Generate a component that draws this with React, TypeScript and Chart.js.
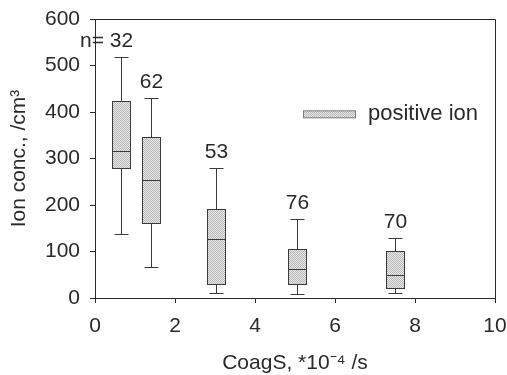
import React, { useEffect, useRef } from "react";
import { Chart, registerables } from "chart.js";

Chart.register(...registerables);

// ---- data ----
const xPositions = [0.65, 1.4, 3.02, 5.05, 7.49];
const whiskerLow = [138, 67, 11, 9, 11];
const quartile1 = [280, 161, 30, 30, 22];
const medians = [316, 254, 127, 62, 49];
const quartile3 = [424, 346, 191, 105, 101];
const whiskerHigh = [518, 430, 280, 170, 129];
const counts = [32, 62, 53, 76, 70];
const seriesName = "positive ion";
const xTicks = [0, 2, 4, 6, 8, 10];
const yTicks = [0, 100, 200, 300, 400, 500, 600];

const FONT = "'Liberation Sans', Arial, sans-serif";
const INK = "#2a2a2a";

function makePattern(ctx: CanvasRenderingContext2D) {
  const c = document.createElement("canvas");
  c.width = 2;
  c.height = 2;
  const p = c.getContext("2d")!;
  p.fillStyle = "#e8e8e8";
  p.fillRect(0, 0, 2, 2);
  p.fillStyle = "#b8b8b8";
  p.fillRect(0, 0, 1, 1);
  p.fillRect(1, 1, 1, 1);
  return ctx.createPattern(c, "repeat")!;
}

const boxPlugin = {
  id: "boxPlugin",
  afterDatasetsDraw(chart: any) {
    const { ctx, chartArea, scales } = chart;
    const xs = scales.x;
    const ys = scales.y;
    const pattern = makePattern(ctx);
    ctx.save();
    // frame top and right
    ctx.strokeStyle = INK;
    ctx.lineWidth = 1;
    ctx.beginPath();
    ctx.moveTo(chartArea.left, Math.round(chartArea.top) + 0.5);
    ctx.lineTo(Math.round(chartArea.right) + 0.5, Math.round(chartArea.top) + 0.5);
    ctx.lineTo(Math.round(chartArea.right) + 0.5, chartArea.bottom);
    ctx.stroke();

    const halfW = 9;
    const capHalf = 7;
    xPositions.forEach((xv, i) => {
      const cx = Math.round(xs.getPixelForValue(xv)) + 0.5;
      const yLo = ys.getPixelForValue(whiskerLow[i]);
      const yQ1 = ys.getPixelForValue(quartile1[i]);
      const yMed = Math.round(ys.getPixelForValue(medians[i])) + 0.5;
      const yQ3 = ys.getPixelForValue(quartile3[i]);
      const yHi = ys.getPixelForValue(whiskerHigh[i]);
      ctx.strokeStyle = "#3a3a3a";
      ctx.lineWidth = 1;
      // whiskers
      ctx.beginPath();
      ctx.moveTo(cx, yQ3);
      ctx.lineTo(cx, Math.round(yHi) + 0.5);
      ctx.moveTo(cx - capHalf, Math.round(yHi) + 0.5);
      ctx.lineTo(cx + capHalf, Math.round(yHi) + 0.5);
      ctx.moveTo(cx, yQ1);
      ctx.lineTo(cx, Math.round(yLo) + 0.5);
      ctx.moveTo(cx - capHalf, Math.round(yLo) + 0.5);
      ctx.lineTo(cx + capHalf, Math.round(yLo) + 0.5);
      ctx.stroke();
      // box
      const top = Math.round(yQ3) + 0.5;
      const bot = Math.round(yQ1) + 0.5;
      ctx.fillStyle = pattern;
      ctx.fillRect(cx - halfW, top, halfW * 2, bot - top);
      ctx.strokeRect(cx - halfW, top, halfW * 2, bot - top);
      // median
      ctx.beginPath();
      ctx.moveTo(cx - halfW, yMed);
      ctx.lineTo(cx + halfW, yMed);
      ctx.stroke();
      // count labels
      ctx.fillStyle = INK;
      ctx.font = `21px ${FONT}`;
      ctx.textBaseline = "middle";
      ctx.textAlign = "center";
      const ly = yHi - 16;
      const txt = String(counts[i]);
      ctx.fillText(txt, cx, ly);
      if (i === 0) {
        const w = ctx.measureText(txt).width;
        ctx.textAlign = "right";
        ctx.fillText("n= ", cx - w / 2, ly);
      }
    });

    // legend
    const lx = 303;
    const lyc = ys.getPixelForValue(395);
    ctx.fillStyle = pattern;
    ctx.fillRect(lx + 0.5, lyc - 3.5, 52, 7);
    ctx.strokeStyle = "#777777";
    ctx.strokeRect(lx + 0.5, lyc - 3.5, 52, 7);
    ctx.fillStyle = INK;
    ctx.font = `22px ${FONT}`;
    ctx.textAlign = "left";
    ctx.textBaseline = "middle";
    ctx.fillText(seriesName, lx + 65, lyc);
    ctx.restore();
  },
};

export default function App() {
  const ref = useRef<HTMLCanvasElement>(null);
  useEffect(() => {
    if (!ref.current) return;
    const chart = new Chart(ref.current, {
      type: "scatter",
      data: {
        datasets: [
          {
            label: seriesName,
            data: xPositions.map((x, i) => ({ x, y: medians[i] })),
            pointRadius: 0,
            showLine: false,
          },
        ],
      },
      options: {
        animation: false,
        responsive: false,
        events: [],
        layout: { padding: { top: 19, right: 12, bottom: 0, left: 0 } },
        plugins: { legend: { display: false }, tooltip: { enabled: false } },
        scales: {
          x: {
            type: "linear",
            min: 0,
            max: 10,
            afterFit: (s: any) => {
              s.height = 77;
              s.paddingLeft = 0;
              s.paddingRight = 0;
            },
            afterBuildTicks: (s: any) => {
              s.ticks = xTicks.map((v) => ({ value: v }));
            },
            grid: {
              display: true,
              drawOnChartArea: false,
              drawTicks: true,
              tickLength: 5,
              color: INK,
            },
            border: { display: true, color: INK, width: 1 },
            ticks: {
              color: INK,
              font: { family: FONT, size: 21 },
              padding: 11,
              maxRotation: 0,
            },
            title: {
              display: true,
              text: "CoagS, *10⁻⁴ /s",
              color: INK,
              font: { family: FONT, size: 21, lineHeight: 1 },
              padding: { top: 0, bottom: 1 },
            },
          },
          y: {
            type: "linear",
            min: 0,
            max: 600,
            afterFit: (s: any) => {
              s.width = 95;
              s.paddingTop = 0;
              s.paddingBottom = 0;
            },
            afterBuildTicks: (s: any) => {
              s.ticks = yTicks.map((v) => ({ value: v }));
            },
            grid: {
              display: true,
              drawOnChartArea: false,
              drawTicks: true,
              tickLength: 5,
              color: INK,
            },
            border: { display: true, color: INK, width: 1 },
            ticks: {
              color: INK,
              font: { family: FONT, size: 21 },
              padding: 10,
            },
            title: {
              display: true,
              text: "Ion conc., /cm³",
              color: INK,
              font: { family: FONT, size: 21, lineHeight: 1 },
              padding: { top: 9, bottom: 0 },
            },
          },
        },
      },
      plugins: [boxPlugin],
    });
    return () => chart.destroy();
  }, []);
  return (
    <div style={{ position: "fixed", left: 0, top: 0, width: 507, height: 375, background: "#fff" }}>
      <canvas ref={ref} width={507} height={375} style={{ display: "block", width: 507, height: 375 }} />
    </div>
  );
}
